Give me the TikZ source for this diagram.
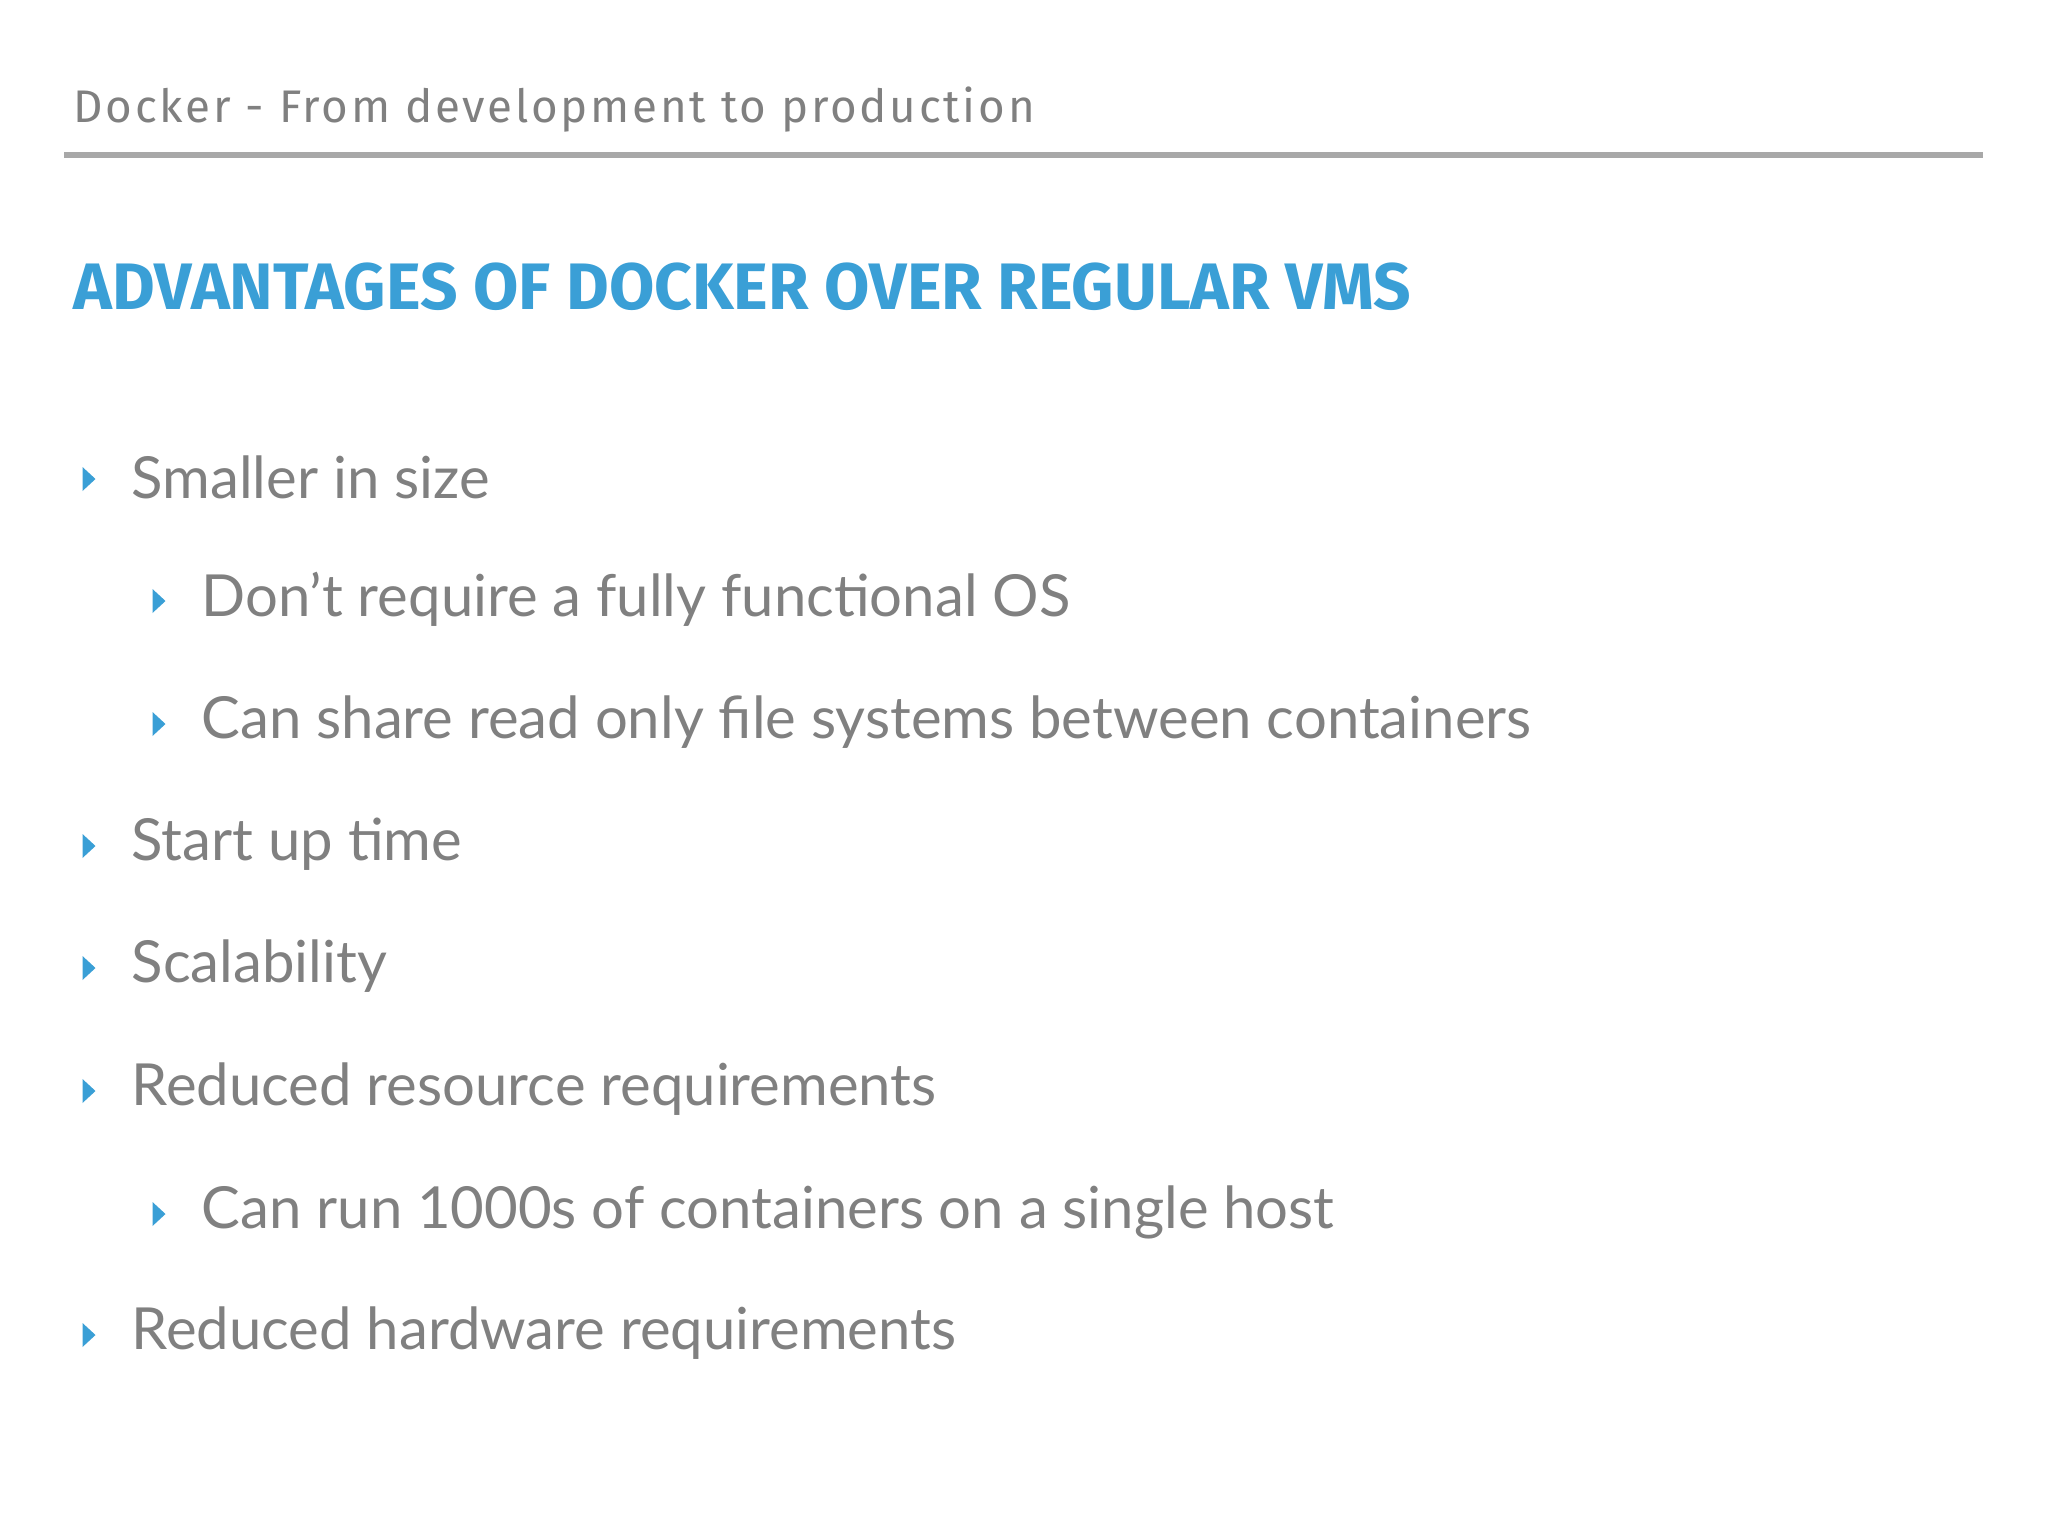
\documentclass[tikz,border=0pt]{standalone}
\usepackage{fontspec}
\setmainfont{Lato}
\newfontfamily\hdfont[LetterSpace=6]{Fira Sans}
\newfontfamily\ttlfont{Fira Sans}
\definecolor{txtgrey}{HTML}{808080}
\definecolor{ttlblue}{HTML}{3A9FD6}
\definecolor{rulegrey}{HTML}{A8A8A8}
\tikzset{
 bul/.style={fill=ttlblue,draw=none},
 item/.style={anchor=west,inner sep=0pt,text=txtgrey,font=\fontsize{16.5}{18}\selectfont},
}
\newcommand{\tri}[2]{\fill[bul] (#1-6.5,#2+12) -- (#1+6.5,#2) -- (#1-6.5,#2-12) -- cycle;}
\begin{document}
\begin{tikzpicture}[x=0.01cm,y=-0.01cm]
\useasboundingbox (0,0) rectangle (2048,1536);
\fill[white] (0,0) rectangle (2048,1536);
\node[anchor=west,inner sep=0pt,text=txtgrey,font=\hdfont\fontsize{13}{15}\selectfont] (hd) at (73,110) {Docker - From development to production};
\draw[rulegrey,line width=1.5pt] (64,155) coordinate (l1) -- (1983,155) coordinate (l2);
\node[anchor=west,inner sep=0pt,text=ttlblue] (ttl) at (73,287) {\resizebox{1337\dimexpr0.01cm\relax}{!}{\ttlfont\bfseries\fontsize{26}{30}\selectfont ADVANTAGES OF DOCKER OVER REGULAR VMS}};
\tri{89}{479}\node[item] (a) at (131,477) {Smaller in size};
\tri{159}{601}\node[item] (b) at (201,599) {Don’t require a fully functional OS};
\tri{159}{724}\node[item] (c) at (201,722) {Can share read only file systems between containers};
\tri{89}{846}\node[item] (d) at (131,844) {Start up time};
\tri{89}{968}\node[item] (e) at (131,966) {Scalability};
\tri{89}{1091}\node[item] (f) at (131,1089) {Reduced resource requirements};
\tri{159}{1214}\node[item] (g) at (201,1212) {Can run 1000s of containers on a single host};
\tri{89}{1335}\node[item] (h) at (131,1333) {Reduced hardware requirements};
\end{tikzpicture}
\end{document}
